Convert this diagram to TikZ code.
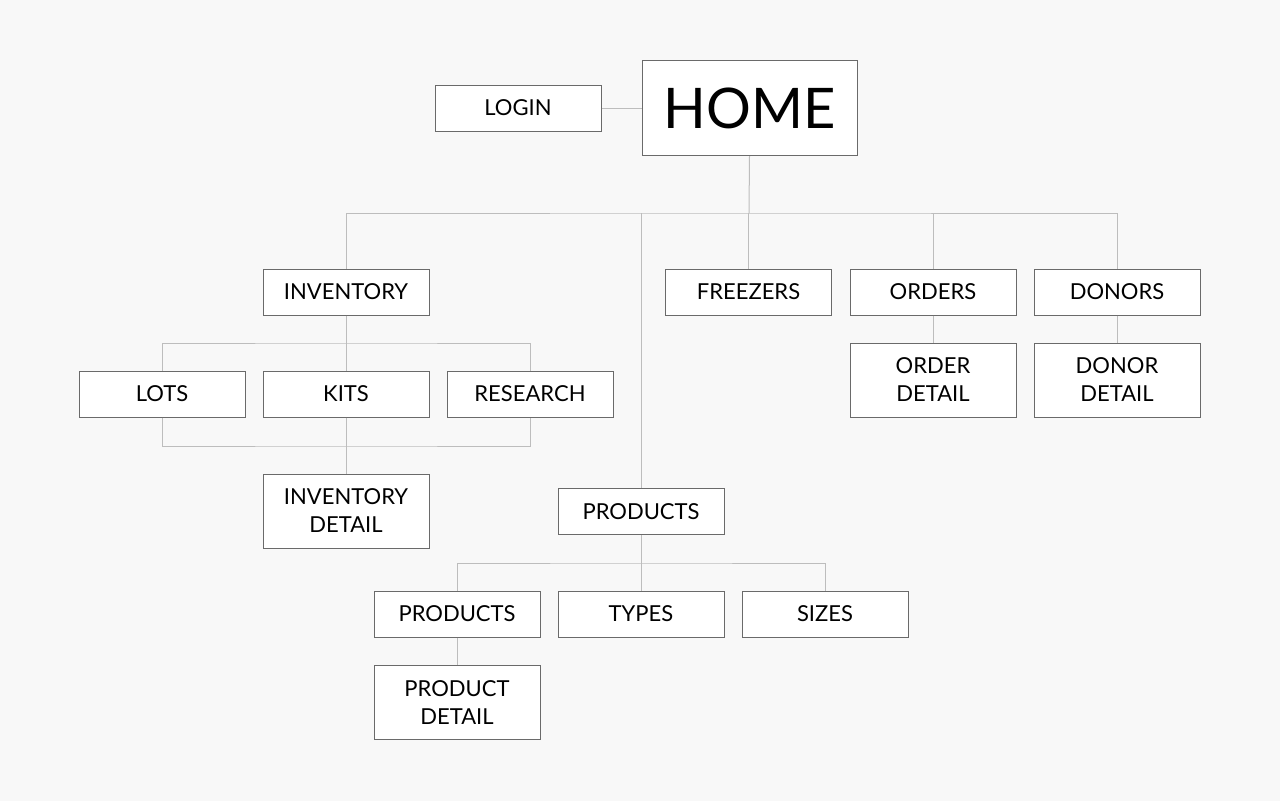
\documentclass[tikz,border=0pt]{standalone}
\usepackage{fontspec}
\setmainfont{Lato}

\definecolor{pagebg}{HTML}{F8F8F8}
\definecolor{boxline}{HTML}{6A6A6A}
\definecolor{linkgray}{HTML}{BDBDBD}

\tikzset{
  page/.style={x=1pt, y=-1pt},
  pagebox/.style={draw=boxline, line width=1pt, fill=white, minimum width=166pt,
    minimum height=46pt, inner sep=0pt, align=center,
    font=\fontsize{22}{28}\selectfont},
  pagebox2/.style={pagebox, minimum height=74pt},
  link/.style={draw=linkgray, line width=1pt}
}

\begin{document}
\begin{tikzpicture}[page]
\fill[pagebg] (0,0) rectangle (1280,801);
\useasboundingbox (0,0) rectangle (1280,801);
\node[pagebox, minimum width=215pt, minimum height=95pt, font=\fontsize{56}{60}\selectfont] (home) at (749.5,108) {HOME};
\node[pagebox] (login) at (518,108) {LOGIN};
\node[pagebox] (inventory) at (346,292) {INVENTORY};
\node[pagebox] (freezers) at (748.5,292) {FREEZERS};
\node[pagebox] (orders) at (933,292) {ORDERS};
\node[pagebox] (donors) at (1117,292) {DONORS};
\node[pagebox2] (orderdetail) at (933,380) {ORDER\\DETAIL};
\node[pagebox2] (donordetail) at (1117,380) {DONOR\\DETAIL};
\node[pagebox] (lots) at (162,394) {LOTS};
\node[pagebox] (kits) at (346,394) {KITS};
\node[pagebox] (research) at (530,394) {RESEARCH};
\node[pagebox2] (invdetail) at (346,511) {INVENTORY\\DETAIL};
\node[pagebox] (products) at (641,511.5) {PRODUCTS};
\node[pagebox] (prodlist) at (457,614) {PRODUCTS};
\node[pagebox] (types) at (641,614) {TYPES};
\node[pagebox] (sizes) at (825,614) {SIZES};
\node[pagebox2] (proddetail) at (457,702.5) {PRODUCT\\DETAIL};
\coordinate (bus) at (749,213);
\coordinate (invbus) at (346,343);
\coordinate (kitbus) at (346,446);
\coordinate (prodbus) at (641,563);
\draw[link] (login.east) -- (home.west);
\draw[link] (home.south) -- (bus);
\draw[link] (inventory.north) |- (bus) -| (donors.north);
\draw[link] (freezers.north) -- (freezers.north |- bus);
\draw[link] (orders.north) -- (orders.north |- bus);
\draw[link] (products.north) -- (products.north |- bus);
\draw[link] (orders.south) -- (orderdetail.north);
\draw[link] (donors.south) -- (donordetail.north);
\draw[link] (inventory.south) -- (kits.north);
\draw[link] (lots.north) |- (invbus) -| (research.north);
\draw[link] (lots.south) |- (kitbus) -| (research.south);
\draw[link] (kits.south) -- (invdetail.north);
\draw[link] (products.south) -- (types.north);
\draw[link] (prodlist.north) |- (prodbus) -| (sizes.north);
\draw[link] (prodlist.south) -- (proddetail.north);
\end{tikzpicture}
\end{document}
